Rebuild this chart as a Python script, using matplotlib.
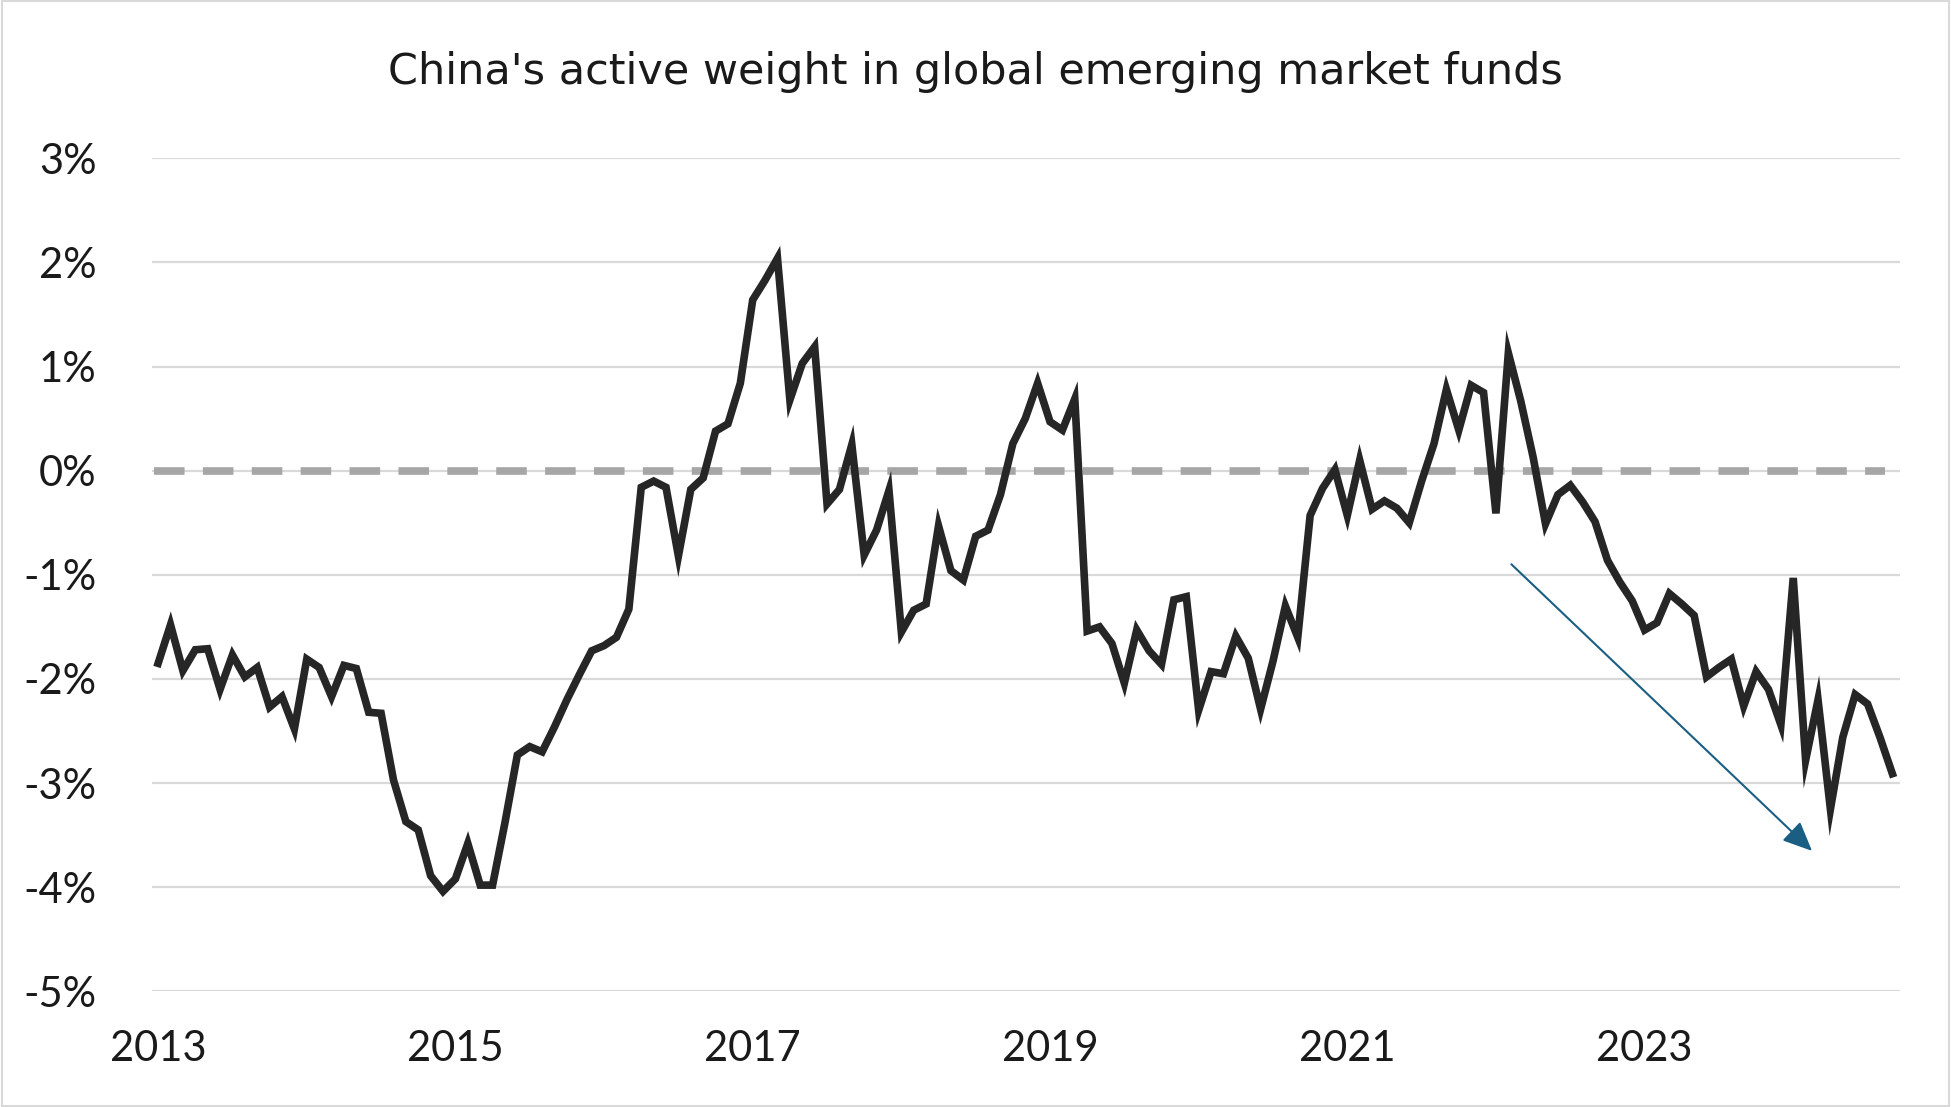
import numpy as np
import matplotlib.pyplot as plt

plt.rcParams['font.family'] = ['Lato', 'DejaVu Sans']

# monthly active weight (%), Jan 2013 onwards
active_weight = [
    -1.85, -1.48, -1.92, -1.72, -1.71, -2.10, -1.77, -1.98, -1.89, -2.27, -2.17, -2.48,
    -1.81, -1.89, -2.17, -1.87, -1.90, -2.32, -2.33, -2.97, -3.37, -3.45, -3.89, -4.04,
    -3.92, -3.58, -3.98, -3.98, -3.38, -2.73, -2.65, -2.70, -2.46, -2.20, -1.96, -1.73,
    -1.68, -1.60, -1.33, -0.16, -0.10, -0.16, -0.82, -0.18, -0.07, 0.38, 0.45, 0.84,
    1.64, 1.83, 2.04, 0.68, 1.03, 1.19, -0.32, -0.18, 0.25, -0.81, -0.57, -0.19,
    -1.55, -1.34, -1.28, -0.53, -0.96, -1.05, -0.63, -0.57, -0.23, 0.26, 0.50, 0.84,
    0.47, 0.39, 0.69, -1.54, -1.50, -1.66, -2.04, -1.53, -1.73, -1.86, -1.24, -1.21,
    -2.30, -1.93, -1.95, -1.59, -1.80, -2.29, -1.83, -1.30, -1.60, -0.43, -0.17, 0.01,
    -0.43, 0.10, -0.37, -0.29, -0.36, -0.50, -0.10, 0.26, 0.78, 0.39, 0.82, 0.75,
    -0.41, 1.13, 0.67, 0.13, -0.51, -0.23, -0.14, -0.30, -0.49, -0.86, -1.07, -1.25,
    -1.53, -1.46, -1.18, -1.28, -1.39, -1.98, -1.89, -1.81, -2.26, -1.93, -2.10, -2.44,
    -1.03, -2.78, -2.20, -3.25, -2.56, -2.15, -2.24, -2.56, -2.91,
]
years = 2013 + np.arange(len(active_weight)) / 12
year_ticks = [2013, 2015, 2017, 2019, 2021, 2023]
pct_ticks = [3, 2, 1, 0, -1, -2, -3, -4, -5]

fig = plt.figure(figsize=(19.51, 11.07), dpi=100)
ax = fig.add_axes([0.078, 0.1045, 0.896, 0.7525])

for t in pct_ticks:
    ax.axhline(t, color='#d9d9d9', lw=1.6, zorder=0)
ax.plot([2012.97, 2024.62], [0, 0], color='#a6a6a6', lw=5.5, ls=(0, (4, 2.4)), zorder=1)
ax.plot(years, active_weight, color='#262626', lw=5.5, solid_joinstyle='miter', zorder=3)

ax.annotate('', xy=(2024.14, -3.67), xytext=(2022.09, -0.88),
            arrowprops=dict(arrowstyle='-|>,head_length=1.8,head_width=0.8',
                            color='#1b5e83', lw=1.5))

ax.set_xlim(2012.96, 2024.72)
ax.set_ylim(-5, 3)
ax.set_xticks(year_ticks)
ax.set_xticklabels([str(y) for y in year_ticks])
ax.set_yticks(pct_ticks)
ax.set_yticklabels([f'{t}%' for t in pct_ticks])
ax.tick_params(length=0, labelsize=30, colors='#1a1a1a', pad=28)
ax.tick_params(axis='y', pad=40)
for s in ax.spines.values():
    s.set_visible(False)

fig.text(0.5, 0.935, "China's active weight in global emerging market funds",
         ha='center', va='center', fontsize=31, color='#1a1a1a', family='DejaVu Sans')

fig.add_artist(plt.Rectangle((0.001, 0.001), 0.998, 0.998, transform=fig.transFigure,
                             fill=False, edgecolor='#d9d9d9', lw=1.5))

fig.savefig('out.png', dpi=100, facecolor='white')
